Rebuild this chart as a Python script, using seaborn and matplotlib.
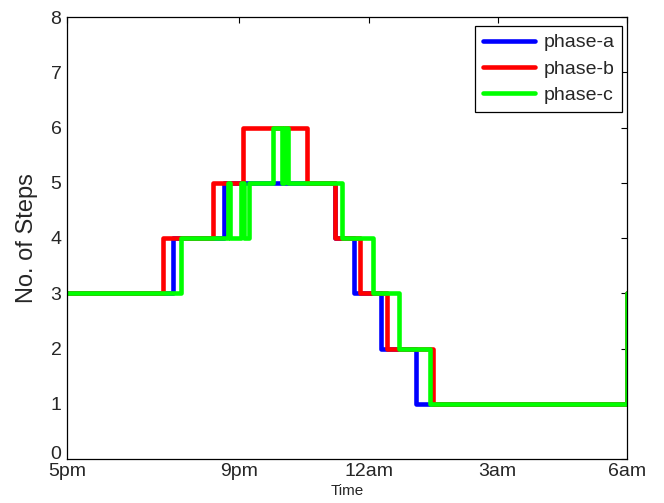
import matplotlib
matplotlib.use("Agg")
import matplotlib.pyplot as plt
import seaborn as sns
import pandas as pd

# Step changes: hours after 5pm and number of steps from that time on
phase_a_hours = [0.0, 2.47, 3.64, 6.22, 6.66, 7.28, 8.10, 13.0]
phase_a_steps = [3, 4, 5, 4, 3, 2, 1, 3]

phase_b_hours = [0.0, 2.22, 3.40, 4.09, 5.56, 6.22, 6.80, 7.43, 8.50, 13.0]
phase_b_steps = [3, 4, 5, 6, 5, 4, 3, 2, 1, 3]

phase_c_hours = [0.0, 2.64, 3.74, 3.79, 4.04, 4.11, 4.22, 4.79, 4.99, 5.04,
                 5.13, 6.38, 7.10, 7.71, 8.43, 13.0]
phase_c_steps = [3, 4, 5, 4, 5, 4, 5, 6, 5, 6, 5, 4, 3, 2, 1, 3]

series_names = ["phase-a", "phase-b", "phase-c"]
series_colors = ["#0000ff", "#ff0000", "#00ff00"]

tick_hours = [0, 4, 7, 10, 13]
tick_labels = ["5pm", "9pm", "12am", "3am", "6am"]

frames = []
for name, hrs, stp in zip(series_names,
                          [phase_a_hours, phase_b_hours, phase_c_hours],
                          [phase_a_steps, phase_b_steps, phase_c_steps]):
    frames.append(pd.DataFrame({"hour": hrs, "steps": stp, "phase": name}))
data = pd.concat(frames, ignore_index=True)

sns.set_style("white")
plt.rcParams["font.family"] = ["Liberation Sans", "DejaVu Sans"]

W, H = 664, 503
fig = plt.figure(figsize=(W / 100, H / 100), dpi=100)
ax = fig.add_axes([67 / W, 44 / H, 560 / W, 442 / H])

sns.lineplot(data=data, x="hour", y="steps", hue="phase",
             palette=dict(zip(series_names, series_colors)),
             estimator=None, sort=False, drawstyle="steps-post",
             linewidth=3.3, legend=False, ax=ax)

ax.set_xlim(0, 13)
ax.set_ylim(0, 8)
ax.set_xticks(tick_hours)
ax.set_xticklabels(tick_labels)
ax.set_yticks(range(0, 9))
ax.tick_params(direction="in", top=True, right=True, length=4,
               width=0.8, labelsize=14, color="black")
ax.tick_params(axis="x", pad=3)
ax.tick_params(axis="y", pad=4)
ax.get_yticklabels()[0].set_verticalalignment("baseline")
for side in ax.spines.values():
    side.set_color("black")
    side.set_linewidth(0.9)

ax.set_xlabel("Time", fontsize=11, labelpad=3)
ax.set_ylabel("No. of Steps", fontsize=17, labelpad=9)

ax.legend(ax.get_lines(), series_names, loc="upper right",
          bbox_to_anchor=(1 - 5 / 560, 1 - 9 / 442), borderaxespad=0,
          fontsize=14, frameon=True, fancybox=False, edgecolor="black",
          framealpha=1, handlelength=2.7, handletextpad=0.4,
          borderpad=0.4, labelspacing=0.45)
ax.get_legend().get_frame().set_linewidth(0.9)

fig.savefig("out.png", dpi=100)
